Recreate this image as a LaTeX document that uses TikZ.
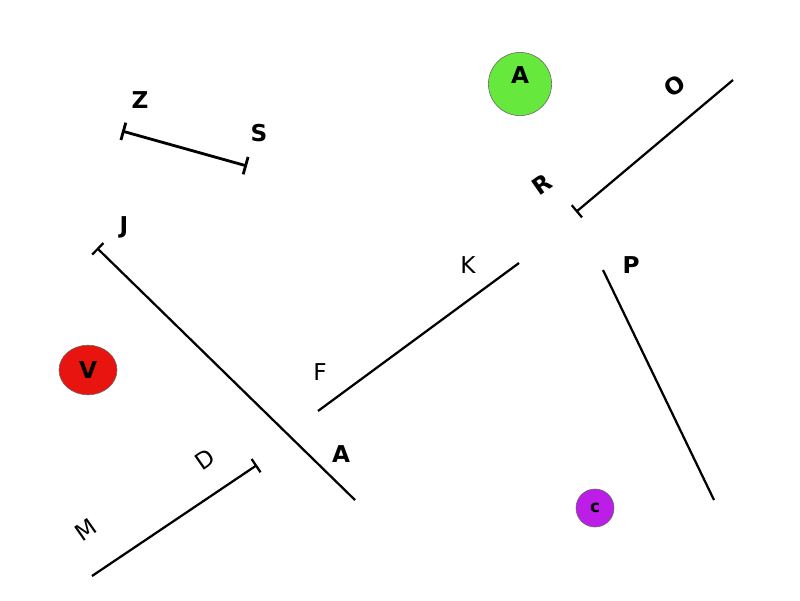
\documentclass[tikz,border=0pt]{standalone}
\usepackage{fontspec}
\setmainfont{DejaVu Sans}
\usetikzlibrary{arrows.meta,shapes.geometric}

\definecolor{dotgreen}{RGB}{102,232,60}
\definecolor{dotred}{RGB}{232,20,16}
\definecolor{dotpurple}{RGB}{188,30,232}

\tikzset{
	seg/.style={line width=1.6pt},
	lbl/.style={font=\fontsize{16.5}{18}\selectfont\bfseries, inner sep=0pt},
	thin lbl/.style={font=\fontsize{16.5}{18}\selectfont, inner sep=0pt},
	dot/.style={circle, draw=black!60, line width=0.4pt, inner sep=0pt, font=\fontsize{16.5}{18}\selectfont\bfseries}
}

\begin{document}
\begin{tikzpicture}[x=0.025cm, y=-0.025cm]
	\useasboundingbox (0,0) rectangle (800,600);
	% end points
	\coordinate (z) at (122,131);
	\coordinate (s) at (247,166);
	\coordinate (j) at (97,248);
	\coordinate (a) at (355,500);
	\coordinate (m) at (92,576);
	\coordinate (d) at (257,465);
	\coordinate (f) at (318,411);
	\coordinate (k) at (519,263);
	\coordinate (r) at (576,212);
	\coordinate (o) at (733,80);
	\coordinate (p) at (603,270);
	\coordinate (q) at (714,500);
	% segments
	\draw[seg, line width=2pt, {Bar[width=0.45cm]}-{Bar[width=0.45cm]}] (z) -- (s);
	\draw[seg, {Bar[width=0.4cm]}-] (j) -- (a);
	\draw[seg, -{Bar[width=0.4cm]}] (m) -- (d);
	\draw[seg] (f) -- (k);
	\draw[seg, {Bar[width=0.4cm]}-] (r) -- (o);
	\draw[seg] (p) -- (q);
	% labels
	\node[lbl] (Zl) at (140,100) {Z};
	\node[lbl] (Sl) at (259,133) {S};
	\node[lbl] (Jl) at (124,227) {J};
	\node[lbl] (Al) at (341,454) {A};
	\node[thin lbl, rotate=35] (Ml) at (86,530) {M};
	\node[thin lbl, rotate=35] (Dl) at (205,459) {D};
	\node[thin lbl] (Fl) at (320,372) {F};
	\node[thin lbl] (Kl) at (468,265) {K};
	\node[lbl, rotate=35] (Rl) at (542,184) {R};
	\node[lbl, rotate=35] (Ol) at (675,86) {O};
	\node[lbl] (Pl) at (631,265) {P};
	% dots
	\node[dot, fill=dotgreen, minimum size=1.58cm] (A) at (520,84) {};
	\node[lbl] (Atxt) at (520,75) {A};
	\node[dot, fill=dotred, ellipse, minimum width=1.45cm, minimum height=1.24cm] (V) at (88,370) {V};
	\node[dot, fill=dotpurple, minimum size=0.95cm, font=\fontsize{12}{13}\selectfont\bfseries] (C) at (595,508) {c};
\end{tikzpicture}
\end{document}
